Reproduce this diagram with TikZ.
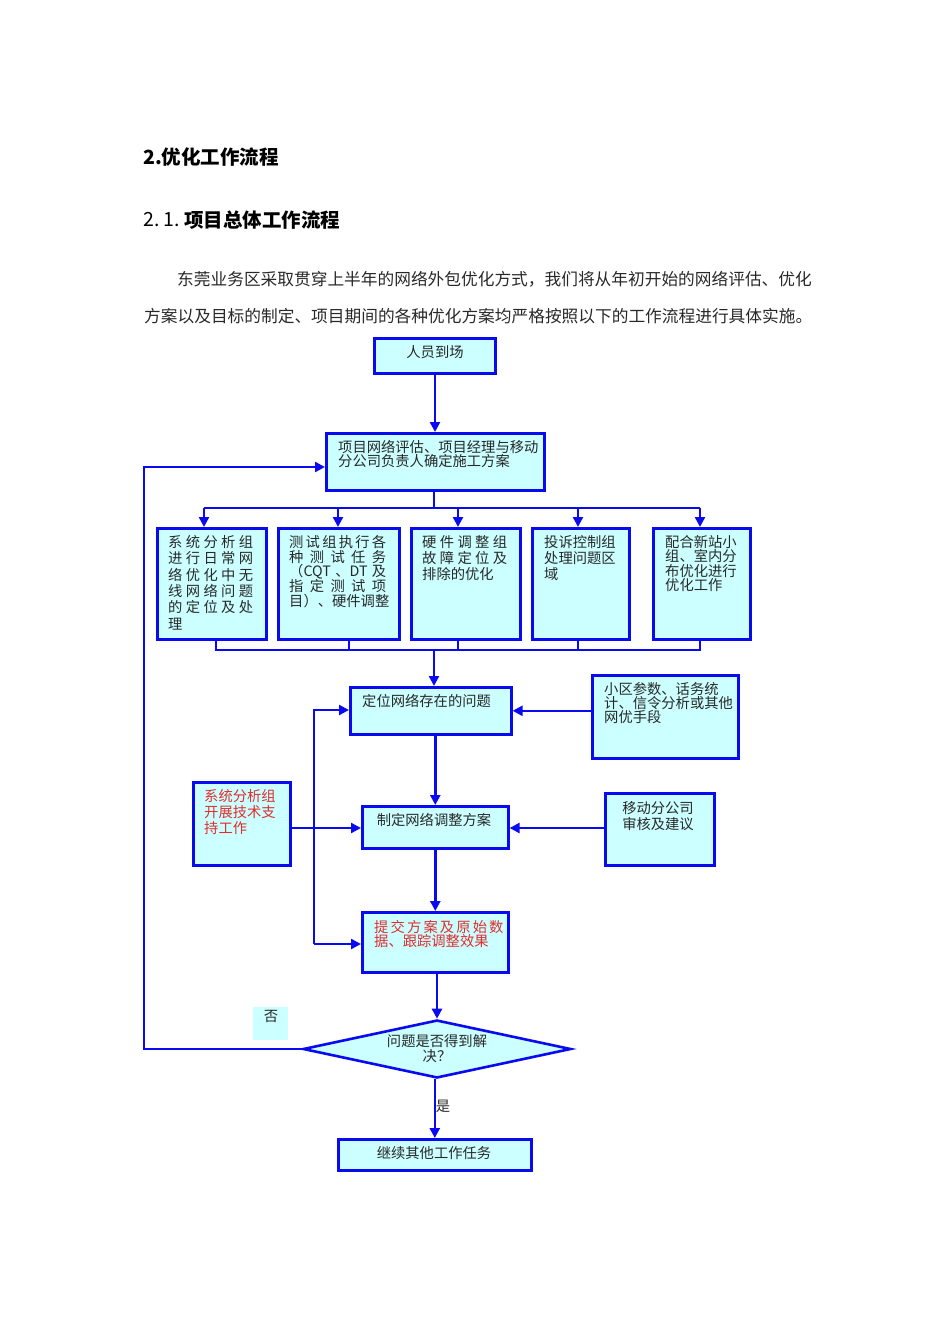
\documentclass[tikz,border=0pt]{standalone}
\usepackage{fontspec}
\setmainfont{Noto Sans CJK SC}
\usetikzlibrary{shapes.geometric,arrows.meta}
\definecolor{bl}{RGB}{10,10,240}
\definecolor{cy}{RGB}{204,255,255}
\definecolor{rd}{RGB}{225,45,45}
\definecolor{tk}{RGB}{40,40,40}
\newcommand\jl[2]{\makebox[#1][s]{#2}}
\begin{document}
\begin{tikzpicture}[x=1pt,y=-1pt,
  box/.style={draw=bl,fill=cy,line width=2.6pt,inner sep=0pt,anchor=north west},
  ln/.style={draw=bl,line width=2.4pt},
  arr/.style={ln,-{Triangle[length=10pt,width=10pt]}},
  tx/.style={inner sep=0pt,anchor=north west,align=left,text=tk,font=\fontsize{14.3}{15}\selectfont},
  ctx/.style={inner sep=0pt,align=center,text=tk,font=\fontsize{14.3}{15}\selectfont}]
\useasboundingbox (0,0) rectangle (950,1344);
% headings
\node[inner sep=0pt,anchor=west,font=\bfseries\fontsize{19.5}{20}\selectfont] (h1) at (143,157) {2.优化工作流程};
\node[inner sep=0pt,anchor=west,font=\fontsize{19.5}{20}\selectfont] (h2a) at (143,220) {2.\hspace{4pt}1.};
\node[inner sep=0pt,anchor=west,font=\bfseries\fontsize{19.5}{20}\selectfont] (h2) at (184,220) {项目总体工作流程};
\node[inner sep=0pt,anchor=west,text=tk,font=\fontsize{16.7}{17}\selectfont] (p1) at (177,279) {东莞业务区采取贯穿上半年的网络外包优化方式，我们将从年初开始的网络评估、优化};
\node[inner sep=0pt,anchor=west,text=tk,font=\fontsize{16.7}{17}\selectfont] (p2) at (144,316) {方案以及目标的制定、项目期间的各种优化方案均严格按照以下的工作流程进行具体实施。};
% boxes
\node[box,minimum width=121,minimum height=35] (start) at (373,337) {};
\node[box,minimum width=218,minimum height=57] (proj) at (325,432) {};
\node[box,minimum width=109,minimum height=111] (b1) at (156,527) {};
\node[box,minimum width=121,minimum height=111] (b2) at (277,527) {};
\node[box,minimum width=109,minimum height=111] (b3) at (410,527) {};
\node[box,minimum width=97,minimum height=111] (b4) at (531,527) {};
\node[box,minimum width=97,minimum height=111] (b5) at (652,527) {};
\node[box,minimum width=161,minimum height=47] (loc) at (349,686) {};
\node[box,minimum width=146,minimum height=83] (xq) at (591,674) {};
\node[box,minimum width=146,minimum height=42] (plan) at (361,805) {};
\node[box,minimum width=97,minimum height=83] (sup) at (192,781) {};
\node[box,minimum width=109,minimum height=72] (mob) at (604,792) {};
\node[box,minimum width=146,minimum height=60] (sub) at (361,911) {};
\node[diamond,draw=bl,fill=cy,line width=2.6pt,inner sep=0pt,minimum width=268,minimum height=58] (dec) at (437,1049) {};
\node[box,minimum width=193,minimum height=31] (cont) at (337,1138) {};
% texts
\node[ctx] (tstart) at (435,352) {人员到场};
\node[tx,font=\fontsize{14.3}{14}\selectfont] (tproj) at (338,440) {项目网络评估、项目经理与移动\\分公司负责人确定施工方案};
\node[tx,font=\fontsize{14.3}{16.4}\selectfont] (tb1) at (168,535) {\jl{85pt}{系 统 分 析 组}\\\jl{85pt}{进 行 日 常 网}\\\jl{85pt}{络 优 化 中 无}\\\jl{85pt}{线 网 络 问 题}\\\jl{85pt}{的 定 位 及 处}\\理};
\node[tx,font=\fontsize{14.3}{14.8}\selectfont] (tb2) at (289,535) {\jl{97pt}{测 试 组 执 行 各}\\\jl{97pt}{种 测 试 任 务}\\\jl{97pt}{（CQT 、DT 及}\\\jl{97pt}{指 定 测 试 项}\\目）、硬件调整};
\node[tx,font=\fontsize{14.3}{16}\selectfont] (tb3) at (422,535) {\jl{85pt}{硬 件 调 整 组}\\\jl{85pt}{故 障 定 位 及}\\排除的优化};
\node[tx,font=\fontsize{14.3}{16}\selectfont] (tb4) at (544,535) {投诉控制组\\处理问题区\\域};
\node[tx,font=\fontsize{14.3}{14.5}\selectfont] (tb5) at (665,535) {配合新站小\\组、室内分\\布优化进行\\优化工作};
\node[tx] (tloc) at (362,694) {定位网络存在的问题};
\node[tx,font=\fontsize{14.3}{14}\selectfont] (txq) at (604,682) {小区参数、话务统\\计、信令分析或其他\\网优手段};
\node[ctx] (tplan) at (434,820) {制定网络调整方案};
\node[tx,text=rd,font=\fontsize{14.3}{16}\selectfont] (tsup) at (204,789) {系统分析组\\开展技术支\\持工作};
\node[ctx,font=\fontsize{14.3}{16}\selectfont] (tmob) at (658,816) {移动分公司\\审核及建议};
\node[tx,text=rd,font=\fontsize{14.3}{14}\selectfont] (tsub) at (374,920) {\jl{121pt}{提 交 方 案 及 原 始 数}\\据、跟踪调整效果};
\node[ctx] (tdec) at (437,1049) {问题是否得到解\\决？};
\node[ctx] (tcont) at (434,1153) {继续其他工作任务};
\node[fill=cy,inner sep=0pt,minimum width=35,minimum height=33,anchor=north west] (nobg) at (253,1007) {};
\node[ctx] (tno) at (271,1016) {否};
\node[ctx] (tyes) at (443,1106) {是};
% connectors
\draw[arr] (start.south -| tstart) -- (tstart |- proj.north);
\coordinate (sp) at (434,508);
\draw[ln] (proj.south -| sp) -- (sp);
\coordinate (t1) at (204,508);
\coordinate (t2) at (338,508);
\coordinate (t3) at (458,508);
\coordinate (t4) at (578,508);
\coordinate (t5) at (700,508);
\draw[ln] (t1) -- (t5);
\draw[arr] (t1) -- (t1 |- b1.north);
\draw[arr] (t2) -- (t2 |- b2.north);
\draw[arr] (t3) -- (t3 |- b3.north);
\draw[arr] (t4) -- (t4 |- b4.north);
\draw[arr] (t5) -- (t5 |- b5.north);
\coordinate (g1) at (216,650);
\coordinate (g2) at (349,650);
\coordinate (g3) at (458,650);
\coordinate (g4) at (578,650);
\coordinate (g5) at (700,650);
\coordinate (gm) at (434,650);
\draw[ln] (g1 |- b1.south) -- (g1) -- (g5) -- (g5 |- b5.south);
\draw[ln] (g2 |- b2.south) -- (g2);
\draw[ln] (g3 |- b3.south) -- (g3);
\draw[ln] (g4 |- b4.south) -- (g4);
\draw[arr] (gm) -- (gm |- loc.north);
\draw[arr] (loc.south -| plan.north) -- (plan.north);
\draw[arr] (plan.south) -- (sub.north);
\draw[arr] (sub.south -| dec.north) -- (dec.north);
\draw[arr] (dec.south -| cont.north) -- (cont.north);
\draw[arr] (xq.west |- loc.east) -- (loc.east);
\coordinate (lp1) at (314,710);
\coordinate (lp2) at (314,944);
\draw[arr] (lp2) -- (lp1) -- (loc.west |- lp1);
\draw[arr] (lp2) -- (sub.west |- lp2);
\coordinate (sy) at (0,828);
\draw[arr] (sup.east |- sy) -- (plan.west |- sy);
\draw[arr] (mob.west |- sy) -- (plan.east |- sy);
\coordinate (ob) at (144,1049);
\coordinate (ot) at (144,467);
\draw[arr] (dec.west) -- (ob) -- (ot) -- (proj.west |- ot);
\end{tikzpicture}
\end{document}
